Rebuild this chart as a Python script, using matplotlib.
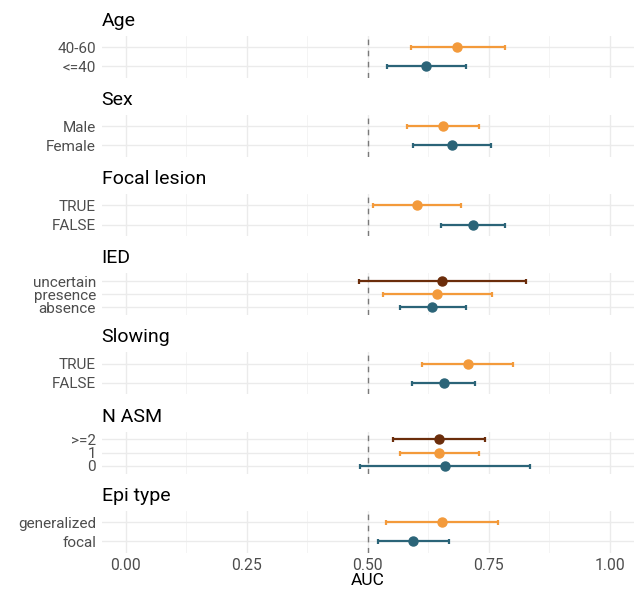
import matplotlib
matplotlib.use("Agg")
import matplotlib.pyplot as plt
from matplotlib.ticker import MultipleLocator

plt.rcParams['font.family'] = ['Roboto', 'DejaVu Sans']

# Data (levels listed bottom -> top within each facet)
facets = ["Age", "Sex", "Focal lesion", "IED", "Slowing", "N ASM", "Epi type"]
levels = [
    ["<=40", "40-60"],
    ["Female", "Male"],
    ["FALSE", "TRUE"],
    ["absence", "presence", "uncertain"],
    ["FALSE", "TRUE"],
    ["0", "1", ">=2"],
    ["focal", "generalized"],
]
auc = [
    [0.621, 0.685],
    [0.675, 0.655],
    [0.718, 0.601],
    [0.633, 0.644, 0.654],
    [0.658, 0.706],
    [0.660, 0.648, 0.647],
    [0.594, 0.653],
]
ci_low = [
    [0.540, 0.589],
    [0.594, 0.581],
    [0.651, 0.510],
    [0.566, 0.531, 0.482],
    [0.592, 0.613],
    [0.484, 0.566, 0.553],
    [0.521, 0.538],
]
ci_high = [
    [0.702, 0.783],
    [0.755, 0.730],
    [0.783, 0.693],
    [0.703, 0.757, 0.826],
    [0.722, 0.799],
    [0.835, 0.730, 0.742],
    [0.668, 0.768],
]
palette = ["#2B6478", "#F39A3B", "#6B2D0B"]
x_ticks = [0.0, 0.25, 0.5, 0.75, 1.0]
x_tick_labels = ["0.00", "0.25", "0.50", "0.75", "1.00"]

W, H = 634, 590
fig = plt.figure(figsize=(W / 100, H / 100), dpi=100)

left_px, right_px = 101.6, 634
first_top, spacing, panel_h = 35.6, 79.2, 42.0

for i, name in enumerate(facets):
    top = first_top + i * spacing
    ax = fig.add_axes([left_px / W, 1 - (top + panel_h) / H,
                       (right_px - left_px) / W, panel_h / H])
    n = len(levels[i])
    ys = list(range(1, n + 1))
    ax.set_xlim(-0.05, 1.05)
    ax.set_ylim(0.4, n + 0.6)
    ax.xaxis.set_major_locator(MultipleLocator(0.25))
    ax.xaxis.set_minor_locator(MultipleLocator(0.125))
    ax.grid(which='major', axis='both', color='#EBEBEB', lw=1.0)
    ax.grid(which='minor', axis='x', color='#F3F3F3', lw=0.6)
    ax.set_axisbelow(True)
    for s in ax.spines.values():
        s.set_visible(False)
    ax.tick_params(which='both', length=0, pad=4)
    ax.set_yticks(ys)
    ax.set_yticklabels(levels[i], color='#4D4D4D', fontsize=11)
    ax.axvline(0.5, color='#7A7A7A', ls=(0, (4, 4)), lw=1.0)
    for j in range(n):
        c = palette[j]
        ax.errorbar(auc[i][j], ys[j],
                    xerr=[[auc[i][j] - ci_low[i][j]], [ci_high[i][j] - auc[i][j]]],
                    fmt='o', color=c, ms=6.5, elinewidth=1.6, capsize=1.8, capthick=1.6)
    ax.set_xticks(x_ticks)
    if i == len(facets) - 1:
        ax.set_xticklabels(x_tick_labels, color='#4D4D4D', fontsize=11.3)
        ax.set_xlabel("AUC", fontsize=12.5, labelpad=0)
    else:
        ax.set_xticklabels([])
    ax.text(0.0, 1.0 + 15 / panel_h, name, transform=ax.transAxes,
            ha='left', va='center', fontsize=14, color='black')

fig.savefig("out.png", dpi=100)
